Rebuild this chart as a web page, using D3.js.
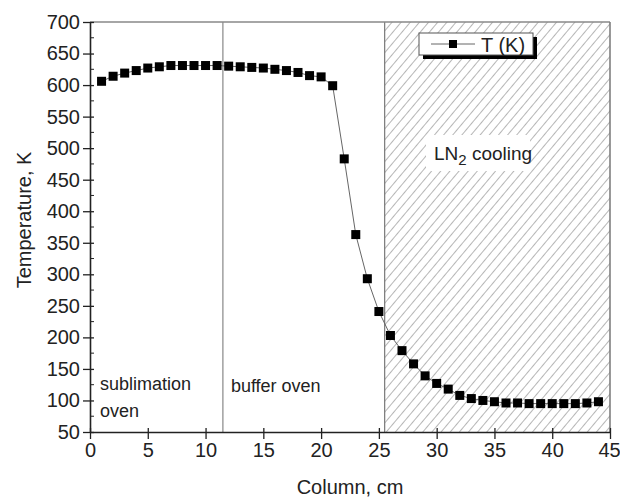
<!DOCTYPE html>
<html>
<head>
<meta charset="utf-8">
<script src="https://cdnjs.cloudflare.com/ajax/libs/d3/7.8.5/d3.min.js"></script>
<style>
  body { margin: 0; background: #fff; }
  text { font-family: "Liberation Sans", Arial, sans-serif; fill: #222; }
</style>
</head>
<body>
<div id="chart"></div>
<script>
// data
var column = [1, 2, 3, 4, 5, 6, 7, 8, 9, 10, 11, 12, 13, 14, 15, 16, 17, 18, 19, 20, 21, 22,
              23, 24, 25, 26, 27, 28, 29, 30, 31, 32, 33, 34, 35, 36, 37, 38, 39, 40, 41, 42, 43, 44];
var tempK = [606, 614, 619, 623, 627, 629, 631, 631, 631, 631, 631, 630, 629, 628, 627, 625, 623, 620, 615, 613, 599, 483,
             363, 293, 241, 203, 179, 158, 139, 127, 118, 108, 103, 100, 98, 96, 96, 95, 95, 95, 95, 95, 96, 98];
var xTicks = [0, 5, 10, 15, 20, 25, 30, 35, 40, 45];
var yTicks = [50, 100, 150, 200, 250, 300, 350, 400, 450, 500, 550, 600, 650, 700];
var ovenBoundary = 11.5;
var coolingStart = 25.5;

var margin = {top: 22, right: 10, bottom: 67, left: 90},
    width = 620 - margin.left - margin.right,
    height = 499 - margin.top - margin.bottom;

var svg = d3.select("#chart")
  .append("svg")
    .attr("width", 620)
    .attr("height", 499);

var defs = svg.append("defs");
var pat = defs.append("pattern")
    .attr("id", "hatch")
    .attr("patternUnits", "userSpaceOnUse")
    .attr("width", 7)
    .attr("height", 7)
    .attr("patternTransform", "rotate(40)");
pat.append("line")
    .attr("x1", 0).attr("y1", 0).attr("x2", 0).attr("y2", 7)
    .attr("stroke", "#6e6e6e")
    .attr("stroke-width", 1);

var g = svg.append("g")
    .attr("transform", "translate(" + margin.left + "," + margin.top + ")");

var x = d3.scaleLinear().domain([0, 45]).range([0, width]);
var y = d3.scaleLinear().domain([50, 700]).range([height, 0]);

// LN2 cooling zone
g.append("rect")
    .attr("x", x(coolingStart))
    .attr("y", 0)
    .attr("width", x(45) - x(coolingStart))
    .attr("height", height)
    .attr("fill", "url(#hatch)");
g.append("line")
    .attr("x1", x(coolingStart)).attr("x2", x(coolingStart))
    .attr("y1", 0).attr("y2", height)
    .attr("stroke", "#777").attr("stroke-width", 1.2);

// oven boundary
g.append("line")
    .attr("x1", x(ovenBoundary)).attr("x2", x(ovenBoundary))
    .attr("y1", 0).attr("y2", height)
    .attr("stroke", "#888").attr("stroke-width", 1.2);

// frame top/right
g.append("line")
    .attr("x1", 0).attr("x2", width).attr("y1", 0).attr("y2", 0)
    .attr("stroke", "#888").attr("stroke-width", 1.5);
g.append("line")
    .attr("x1", width).attr("x2", width).attr("y1", 0).attr("y2", height)
    .attr("stroke", "#777").attr("stroke-width", 1.5);

// minor ticks (inward)
var yMinor = d3.range(75, 700, 50);
g.append("g").selectAll("line").data(yMinor).enter().append("line")
    .attr("x1", 0).attr("x2", 4)
    .attr("y1", function(d) { return y(d); }).attr("y2", function(d) { return y(d); })
    .attr("stroke", "#222");

// Y axis
var yAxis = g.append("g")
    .call(d3.axisLeft(y).tickValues(yTicks).tickSize(7).tickSizeOuter(0).tickPadding(3));
yAxis.selectAll("text").style("font-size", "20px").attr("fill", "#222");
yAxis.selectAll(".tick line").attr("x2", -7).attr("x1", 4).attr("stroke", "#222").attr("stroke-width", 1.3);
yAxis.select(".domain").attr("stroke", "#222").attr("stroke-width", 1.6);

// X axis
var xAxis = g.append("g")
    .attr("transform", "translate(0," + height + ")")
    .call(d3.axisBottom(x).tickValues(xTicks).tickSize(7).tickSizeOuter(0).tickPadding(4));
xAxis.selectAll("text").style("font-size", "20px").attr("fill", "#222")
    .attr("dx", function(d) { return d === 45 ? -1 : 0; });
xAxis.selectAll(".tick line").attr("y1", -4).attr("y2", 7).attr("stroke", "#222").attr("stroke-width", 1.3);
xAxis.select(".domain").attr("stroke", "#222").attr("stroke-width", 1.6);

// data line and markers
var pts = column.map(function(c, i) { return {c: c, t: tempK[i]}; });
g.append("path")
    .datum(pts)
    .attr("fill", "none")
    .attr("stroke", "#666")
    .attr("stroke-width", 1)
    .attr("d", d3.line().x(function(d) { return x(d.c); }).y(function(d) { return y(d.t); }));
g.selectAll(".pt").data(pts).enter().append("rect")
    .attr("class", "pt")
    .attr("x", function(d) { return x(d.c) - 4.5; })
    .attr("y", function(d) { return y(d.t) - 4.5; })
    .attr("width", 9).attr("height", 9)
    .attr("fill", "#000");

// region labels
g.append("text").attr("x", 10).attr("y", 368).style("font-size", "18px").text("sublimation");
g.append("text").attr("x", 10).attr("y", 395).style("font-size", "18px").text("oven");
g.append("text").attr("x", x(ovenBoundary) + 8).attr("y", 370).style("font-size", "18px").text("buffer oven");

// LN2 label with white background
g.append("rect")
    .attr("x", 336).attr("y", 113).attr("width", 104).attr("height", 36)
    .attr("fill", "#fff");
var ln = g.append("text").attr("x", 344).attr("y", 138).style("font-size", "19px");
ln.append("tspan").text("LN");
ln.append("tspan").attr("dy", 5).style("font-size", "15px").text("2");
ln.append("tspan").attr("dy", -5).text(" cooling");

// legend
var lg = g.append("g").attr("transform", "translate(329,11)");
lg.append("rect").attr("x", 4).attr("y", 4).attr("width", 114).attr("height", 22).attr("fill", "#000");
lg.append("rect").attr("x", 0).attr("y", 0).attr("width", 114).attr("height", 22)
    .attr("fill", "#fff").attr("stroke", "#555").attr("stroke-width", 1);
lg.append("line").attr("x1", 12).attr("x2", 56).attr("y1", 11).attr("y2", 11)
    .attr("stroke", "#666").attr("stroke-width", 1);
lg.append("rect").attr("x", 30).attr("y", 7).attr("width", 8).attr("height", 8).attr("fill", "#000");
lg.append("text").attr("x", 62).attr("y", 19).style("font-size", "20px").text("T (K)");

// axis titles
svg.append("text")
    .attr("x", margin.left + width / 2)
    .attr("y", 494)
    .attr("text-anchor", "middle")
    .style("font-size", "20px")
    .text("Column, cm");
svg.append("text")
    .attr("transform", "translate(31," + (margin.top + height / 2 - 7) + ") rotate(-90)")
    .attr("text-anchor", "middle")
    .style("font-size", "20px")
    .text("Temperature, K");
</script>
</body>
</html>
